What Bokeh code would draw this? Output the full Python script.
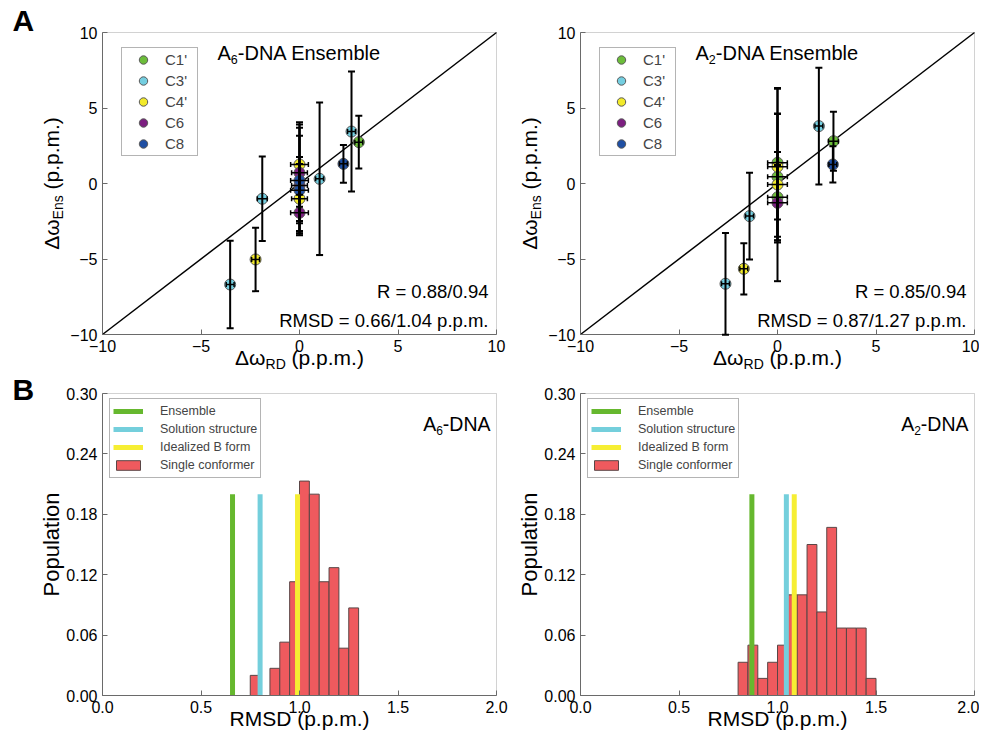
import math
from bokeh.plotting import figure
from bokeh.models import (ColumnDataSource, Whisker, TeeHead, Label, Legend, LegendItem,
                          FixedTicker, PrintfTickFormatter, Range1d, BoxAnnotation)
from bokeh.layouts import column, row
from bokeh.embed import file_html
from bokeh.resources import INLINE

FONT = "Liberation Sans"

# ---------------- data ----------------
atoms = ["C1'", "C3'", "C4'", "C6", "C8"]
atom_colors = ["#6cbd3a", "#74cee0", "#f2ea2a", "#7c1f80", "#1f4fa3"]

# Panel A, A6-DNA
a6_atom = ["C3'", "C4'", "C3'", "C3'", "C8", "C3'", "C1'",
           "C4'", "C6", "C8", "C6", "C8", "C4'", "C6"]
a6_rd = [-3.52, -2.23, -1.89, 1.02, 2.23, 2.64, 3.01,
         0.0, 0.0, 0.0, 0.0, 0.0, 0.0, 0.0]
a6_ens = [-6.69, -5.03, -1.01, 0.31, 1.30, 3.44, 2.74,
          1.26, 0.71, 0.20, -0.13, -0.44, -1.01, -1.94]
a6_rd_err = [0.2, 0.2, 0.25, 0.2, 0.2, 0.2, 0.2,
             0.45, 0.40, 0.45, 0.40, 0.45, 0.40, 0.45]
a6_ens_err = [2.9, 2.1, 2.8, 5.05, 1.25, 3.97, 1.74,
              2.8, 3.2, 3.5, 3.3, 2.2, 2.3, 1.2]
a6_stats = ["R = 0.88/0.94", "RMSD = 0.66/1.04 p.p.m."]

# Panel A, A2-DNA
a2_atom = ["C3'", "C4'", "C3'", "C3'", "C1'", "C8",
           "C1'", "C4'", "C1'", "C4'", "C1'", "C6"]
a2_rd = [-2.64, -1.71, -1.42, 2.10, 2.84, 2.81,
         0.0, 0.0, 0.0, 0.0, 0.0, 0.0]
a2_ens = [-6.64, -5.65, -2.16, 3.80, 2.80, 1.26,
          1.37, 1.11, 0.44, -0.07, -0.91, -1.28]
a2_rd_err = [0.2, 0.2, 0.2, 0.2, 0.25, 0.2,
             0.5, 0.5, 0.5, 0.5, 0.5, 0.5]
a2_ens_err = [3.37, 1.7, 2.87, 3.87, 1.95, 1.2,
              4.9, 3.5, 4.2, 6.4, 3.0, 2.5]
a2_stats = ["R = 0.85/0.94", "RMSD = 0.87/1.27 p.p.m."]

scatter_ticks = [-10, -5, 0, 5, 10]

# Panel B histograms
a6_bin_edges = [0.75, 0.80, 0.85, 0.90, 0.95, 1.00, 1.05, 1.10, 1.15, 1.20, 1.25, 1.30]
a6_pop = [0.020, 0.0, 0.027, 0.053, 0.113, 0.213, 0.200, 0.113, 0.127, 0.047, 0.087]
a6_ref_rmsd = [0.66, 0.80, 0.99]   # Ensemble, Solution structure, Idealized B form

a2_bin_edges = [0.80, 0.85, 0.90, 0.95, 1.00, 1.05, 1.10, 1.15, 1.20, 1.25, 1.30,
                1.35, 1.40, 1.45, 1.50]
a2_pop = [0.033, 0.050, 0.017, 0.033, 0.050, 0.100, 0.100, 0.150, 0.083, 0.167,
          0.067, 0.067, 0.067, 0.017]
a2_ref_rmsd = [0.87, 1.045, 1.085]

ref_names = ["Ensemble", "Solution structure", "Idealized B form"]
ref_colors = ["#66b82e", "#74cfdc", "#f6ee33"]
ref_line_top = 0.20
hist_name = "Single conformer"
hist_color = "#ef5a5e"
pop_ticks = [0.0, 0.06, 0.12, 0.18, 0.24, 0.30]
rmsd_ticks = [0.0, 0.5, 1.0, 1.5, 2.0]

# ---------------- layout constants (pixels) ----------------
BOX_W, BOX_H = 394, 302
FRAME_COL = "#6a6a6a"
NBSP = "\u00a0"

WID = {'A': 667, 'D': 722, 'N': 722, 'E': 667, 'R': 722, 'S': 667, 'M': 833,
       'n': 556, 's': 500, 'e': 556, 'm': 833, 'p': 556, '.': 278, '-': 333,
       ' ': 278, NBSP: 278, '(': 333, ')': 333, 'Δ': 668, 'ω': 781}


def tw(s, size):
    return sum(WID.get(c, 556) for c in s) / 1000.0 * size


class Panel:
    """A figure whose frame covers the whole canvas; the visible plot box is
    placed inside it so that texts around the box are not clipped."""

    def __init__(self, ml, mr, mt, mb, xlim, ylim):
        self.ml, self.mb = ml, mb
        ux = (xlim[1] - xlim[0]) / BOX_W
        uy = (ylim[1] - ylim[0]) / BOX_H
        xr = Range1d(xlim[0] - ml * ux, xlim[1] + mr * ux)
        yr = Range1d(ylim[0] - mb * uy, ylim[1] + mt * uy)
        p = figure(width=ml + BOX_W + mr, height=mt + BOX_H + mb, x_range=xr, y_range=yr,
                   output_backend="svg", toolbar_location=None, title=None,
                   min_border_left=0, min_border_right=0, min_border_top=0,
                   min_border_bottom=0, background_fill_color="white",
                   border_fill_color="white")
        p.outline_line_color = None
        p.xgrid.visible = False
        p.ygrid.visible = False
        p.xaxis.fixed_location = ylim[0]
        p.yaxis.fixed_location = xlim[0]
        p.xaxis.bounds = tuple(xlim)
        p.yaxis.bounds = tuple(ylim)
        p.add_layout(BoxAnnotation(left=xlim[0], right=xlim[1], bottom=ylim[0],
                                   top=ylim[1], fill_alpha=0, fill_color=None,
                                   line_color=FRAME_COL, line_width=1))
        self.p = p

    def style(self, xticks, yticks, xfmt=None, yfmt=None):
        p = self.p
        p.xaxis.ticker = FixedTicker(ticks=xticks)
        p.yaxis.ticker = FixedTicker(ticks=yticks)
        if xfmt:
            p.xaxis.formatter = PrintfTickFormatter(format=xfmt)
        if yfmt:
            p.yaxis.formatter = PrintfTickFormatter(format=yfmt)
        for ax in (p.xaxis[0], p.yaxis[0]):
            ax.major_tick_in = 5
            ax.major_tick_out = 0
            ax.minor_tick_line_color = None
            ax.axis_line_color = FRAME_COL
            ax.major_tick_line_color = FRAME_COL
            ax.major_label_text_font = FONT
            ax.major_label_text_font_size = "16px"
            ax.major_label_text_color = "black"
            ax.major_label_standoff = 5

    def label(self, x, y, text, size, align="left", angle=0.0, bold=False):
        # (x, y): position relative to the box's bottom-left corner; y is the
        # vertical middle of the text
        self.p.add_layout(Label(x=self.ml + x, y=self.mb + y, x_units="screen",
                                y_units="screen", text=text, angle=angle,
                                text_font=FONT, text_font_size=f"{size}px",
                                text_baseline="middle", text_align=align,
                                text_color="black",
                                text_font_style="bold" if bold else "normal"))

    def rich(self, x, y, pieces, size, sub_size, drop, angle=0.0, align="left"):
        total = sum(tw(t, sub_size if s else size) for t, s in pieces)
        pos = {"left": 0.0, "center": -total / 2.0, "right": -total}[align]
        for t, s in pieces:
            fs = sub_size if s else size
            if angle == 0:
                lx, ly = x + pos, y - (drop if s else 0)
            else:
                lx, ly = x + (drop if s else 0), y + pos
            self.label(lx, ly, t, fs, angle=angle)
            pos += tw(t, fs)


TOP_MB = 38
BOT_MT = 21


def scatter_panel(ml, mr, name_digit, atom, rd, ens, rd_err, ens_err, stats,
                  letter=None):
    lim = (scatter_ticks[0], scatter_ticks[-1])
    P = Panel(ml, mr, 32, TOP_MB, lim, lim)
    P.style(scatter_ticks, scatter_ticks)
    p = P.p
    p.line(x=list(lim), y=list(lim), line_color="black", line_width=1.5)
    items = []
    for a, c in zip(atoms, atom_colors):
        idx = [i for i, v in enumerate(atom) if v == a]
        src = ColumnDataSource(dict(x=[rd[i] for i in idx], y=[ens[i] for i in idx]))
        r = p.scatter("x", "y", source=src, size=11, fill_color=c,
                      line_color="#5a5a5a", line_width=1)
        items.append(LegendItem(label=a, renderers=[r]))
    err = ColumnDataSource(dict(
        x=rd, y=ens,
        yl=[v - e for v, e in zip(ens, ens_err)], yu=[v + e for v, e in zip(ens, ens_err)],
        xl=[v - e for v, e in zip(rd, rd_err)], xu=[v + e for v, e in zip(rd, rd_err)]))
    p.add_layout(Whisker(source=err, base="x", lower="yl", upper="yu", dimension="height",
                         line_color="black", line_width=2, level="annotation",
                         lower_head=TeeHead(size=7, line_width=2, line_color="black"),
                         upper_head=TeeHead(size=7, line_width=2, line_color="black")))
    p.add_layout(Whisker(source=err, base="y", lower="xl", upper="xu", dimension="width",
                         line_color="black", line_width=1.5, level="annotation",
                         lower_head=TeeHead(size=5, line_width=1.5, line_color="black"),
                         upper_head=TeeHead(size=5, line_width=1.5, line_color="black")))
    leg = Legend(items=items, location=(ml + 19, TOP_MB + 178), glyph_width=40,
                 glyph_height=21, label_height=21, spacing=0, padding=1, margin=0,
                 label_standoff=2, label_width=31, label_text_font=FONT,
                 label_text_font_size="15px", border_line_color=FRAME_COL,
                 border_line_width=1, background_fill_alpha=1.0)
    p.add_layout(leg)
    P.rich(115, 282, [("A", False), (name_digit, True), ("-DNA Ensemble", False)],
           20, 12.5, 7)
    P.label(386, 43, stats[0], 18.5, align="right")
    P.label(386, 14, stats[1], 18.5, align="right")
    P.rich(197, -23, [("Δω", False), ("RD", True), (NBSP + "(p.p.m.)", False)],
           21, 14, 6.5, align="center")
    P.rich(-51, 151, [("Δω", False), ("Ens", True), (NBSP + "(p.p.m.)", False)],
           21, 14, 6.5, angle=math.pi / 2, align="center")
    if letter:
        P.label(-90, 314, letter, 30, bold=True)
    return p


def hist_panel(ml, mr, name_digit, edges, pop, refs, letter=None):
    P = Panel(ml, mr, BOT_MT, 36, (rmsd_ticks[0], rmsd_ticks[-1]),
              (pop_ticks[0], pop_ticks[-1]))
    P.style(rmsd_ticks, pop_ticks, "%.1f", "%.2f")
    p = P.p
    hsrc = ColumnDataSource(dict(left=edges[:-1], right=edges[1:], top=pop))
    hr = p.quad(left="left", right="right", top="top", bottom=0, source=hsrc,
                fill_color=hist_color, line_color="#5a4646", line_width=1)
    items = []
    for v, n, c in zip(refs, ref_names, ref_colors):
        s = ColumnDataSource(dict(x0=[v], y0=[0.0], x1=[v], y1=[ref_line_top]))
        r = p.segment("x0", "y0", "x1", "y1", source=s, line_color=c, line_width=5)
        items.append(LegendItem(label=n, renderers=[r]))
    items.append(LegendItem(label=hist_name, renderers=[hr]))
    leg = Legend(items=items, location=(ml + 7, 36 + 217), glyph_width=30,
                 glyph_height=12, label_height=18, spacing=0, padding=3, margin=0,
                 label_standoff=17, label_text_font=FONT, label_text_font_size="12.5px",
                 border_line_color=FRAME_COL, border_line_width=1)
    p.add_layout(leg)
    P.rich(388, 272, [("A", False), (name_digit, True), ("-DNA", False)],
           19.5, 12, 7, align="right")
    P.label(197, -23, "RMSD (p.p.m.)", 21, align="center")
    P.label(-51, 151, "Population", 22, align="center", angle=math.pi / 2)
    if letter:
        P.label(-90, 306, letter, 30, bold=True)
    return p


p1 = scatter_panel(102, 20, "6", a6_atom, a6_rd, a6_ens, a6_rd_err, a6_ens_err, a6_stats, "A")
p2 = scatter_panel(64, 5, "2", a2_atom, a2_rd, a2_ens, a2_rd_err, a2_ens_err, a2_stats)
p3 = hist_panel(102, 20, "6", a6_bin_edges, a6_pop, a6_ref_rmsd, "B")
p4 = hist_panel(64, 5, "2", a2_bin_edges, a2_pop, a2_ref_rmsd)

layout = column(row(p1, p2), row(p3, p4))
open("out.html", "w").write(file_html(layout, INLINE))
